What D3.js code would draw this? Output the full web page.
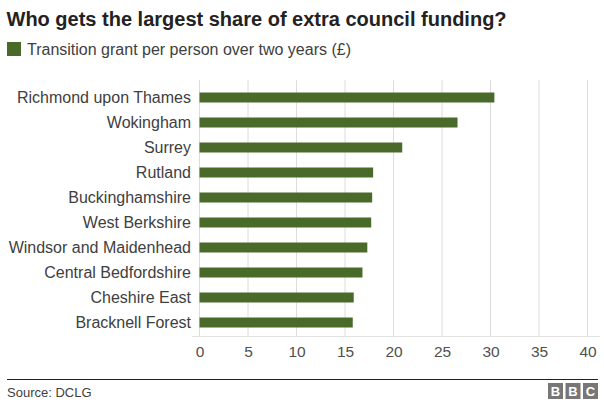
<!DOCTYPE html>
<html><head><meta charset="utf-8">
<script src="https://cdn.jsdelivr.net/npm/d3@7"></script>
<style>body{margin:0;background:#fff;}svg{display:block;font-family:"Liberation Sans",Arial,sans-serif;}</style>
</head><body>
<script>
const categories = ["Richmond upon Thames","Wokingham","Surrey","Rutland","Buckinghamshire","West Berkshire","Windsor and Maidenhead","Central Bedfordshire","Cheshire East","Bracknell Forest"];
const values = [30.4, 26.6, 20.9, 17.9, 17.8, 17.7, 17.3, 16.8, 15.9, 15.8];
const ticks = [0,5,10,15,20,25,30,35,40];
const title = "Who gets the largest share of extra council funding?";
const legendLabel = "Transition grant per person over two years (£)";
const source = "Source: DCLG";

const W = 604, H = 412;
const svg = d3.select("body").append("svg").attr("width", W).attr("height", H);
const green = "#4a6a2a";
const ff = "Liberation Sans, Arial, sans-serif";

svg.append("text").attr("x", 6.5).attr("y", 26).attr("font-size", 20).attr("font-weight", "bold").attr("fill", "#222").text(title);
svg.append("rect").attr("x", 7).attr("y", 42).attr("width", 14).attr("height", 14).attr("fill", green);
svg.append("text").attr("x", 27).attr("y", 55).attr("font-size", 16).attr("fill", "#404040").text(legendLabel);

const x = d3.scaleLinear().domain([0, 40]).range([199.5, 587.5]);
const y = d3.scaleBand().domain(categories).range([85, 335]).paddingInner(0.6).paddingOuter(0.3);

const g = svg.append("g");
g.selectAll("line.grid").data(ticks).join("line").attr("class","grid")
  .attr("x1", d => x(d)).attr("x2", d => x(d)).attr("y1", 80).attr("y2", 336)
  .attr("stroke", "#dcdcdc").attr("stroke-width", 1);
g.append("line").attr("x1", 192).attr("x2", 600).attr("y1", 336.5).attr("y2", 336.5).attr("stroke", "#e2e2e2");

const axis = d3.axisBottom(x).tickValues(ticks).tickSize(0).tickPadding(9);
const ax = svg.append("g").attr("transform", "translate(0,337)").call(axis);
ax.select(".domain").remove();
ax.selectAll("text").attr("font-size", 15.5).attr("fill", "#505050").attr("font-family", ff);

g.selectAll("rect.bar").data(values).join("rect").attr("class","bar")
  .attr("x", x(0)).attr("y", (d,i) => y(categories[i]))
  .attr("width", d => x(d) - x(0)).attr("height", y.bandwidth()).attr("fill", green);

const yAxis = d3.axisLeft(y).tickSize(0).tickPadding(8);
const ay = svg.append("g").attr("transform", "translate(199,0)").call(yAxis);
ay.select(".domain").remove();
ay.selectAll("text").attr("font-size", 16).attr("fill", "#404040").attr("font-family", ff);

svg.append("line").attr("x1", 7).attr("x2", 598).attr("y1", 379.5).attr("y2", 379.5).attr("stroke", "#222").attr("stroke-width", 1);
svg.append("text").attr("x", 7).attr("y", 396.5).attr("font-size", 13).attr("fill", "#404040").text(source);

const bbc = ["B","B","C"];
const bg = svg.append("g");
bbc.forEach((c, i) => {
  const bx = 548 + i * 17.5;
  bg.append("rect").attr("x", bx).attr("y", 383).attr("width", 15).attr("height", 16).attr("fill", "#777");
  bg.append("text").attr("x", bx + 7.5).attr("y", 396).attr("text-anchor", "middle").attr("font-size", 13).attr("font-weight", "bold").attr("fill", "#fff").text(c);
});
</script>
</body></html>
